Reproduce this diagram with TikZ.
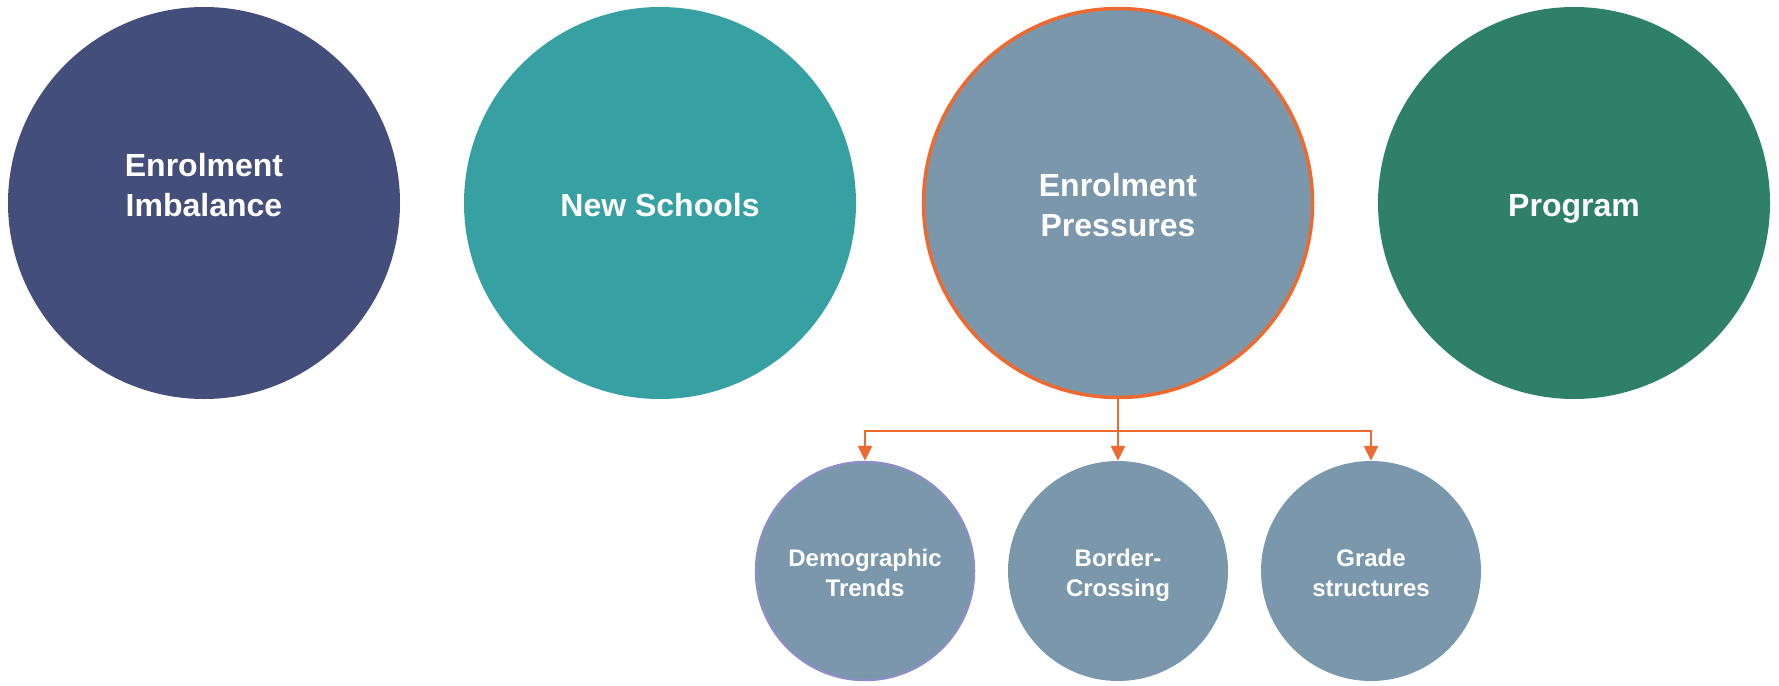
\documentclass[tikz,border=0pt]{standalone}
\usepackage{fontspec}
\setmainfont{Liberation Sans}
\usetikzlibrary{arrows.meta}
\definecolor{cimb}{HTML}{434E7B}
\definecolor{cnew}{HTML}{36A0A2}
\definecolor{cpre}{HTML}{7B97AC}
\definecolor{cprog}{HTML}{2E8168}
\definecolor{corange}{HTML}{EC6A2F}
\definecolor{clav}{HTML}{8B8FC5}
\newcommand\bigtop{\rule{0pt}{34pt}}
\newcommand\bigbot{\rule[-7pt]{0pt}{7pt}}
\newcommand\smltop{\rule{0pt}{27pt}}
\newcommand\smlbot{\rule[-6pt]{0pt}{6pt}}
\tikzset{
  bigcirc/.style={circle, minimum size=392pt, inner sep=0pt, text=white, align=center,
    font=\fontsize{32}{40}\selectfont\bfseries},
  smallcirc/.style={circle, minimum size=220pt, inner sep=0pt, text=white, align=center,
    fill=cpre, font=\fontsize{24}{29.5}\selectfont\bfseries},
  bigtxt/.style={text=white, align=center, inner sep=0pt, font=\fontsize{32}{40}\selectfont\bfseries},
  conn/.style={draw=corange, line width=2.5pt},
  tip/.style={-{Triangle[length=15pt,width=14pt]}}
}
\begin{document}
\begin{tikzpicture}[x=1pt,y=-1pt]
\useasboundingbox (0,0) rectangle (1779,685);
\node[bigcirc, fill=cimb] (imb) at (204,203) {};
\node[bigtxt] (imbt) at (204,185.5) {Enrolment\\Imbalance};
\node[bigcirc, fill=cnew] (new) at (660,203) {\bigtop New Schools\bigbot};
\node[bigcirc, fill=cpre, draw=corange, line width=3.5pt, minimum size=389pt] (pre) at (1118,203) {\bigtop Enrolment\\Pressures\bigbot};
\node[bigcirc, fill=cprog] (prog) at (1574,203) {\bigtop Program\bigbot};
\node[smallcirc, draw=clav, line width=2.5pt, minimum size=218pt] (dem) at (865,571) {\smltop Demographic\\Trends\smlbot};
\node[smallcirc] (bor) at (1118,571) {\smltop Border-\\Crossing\smlbot};
\node[smallcirc] (gra) at (1371,571) {\smltop Grade\\structures\smlbot};
\coordinate (j) at (1118,431);
\draw[conn] (pre.south) -- (j);
\draw[conn, tip] (j) -- (bor.north);
\draw[conn, tip] (j) -| (dem.north);
\draw[conn, tip] (j) -| (gra.north);
\end{tikzpicture}
\end{document}
